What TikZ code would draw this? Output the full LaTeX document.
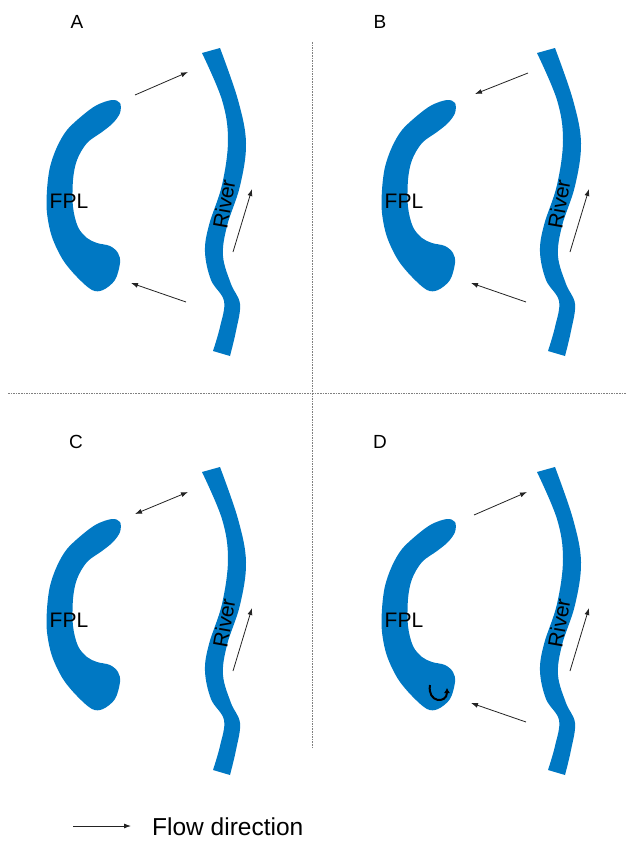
\documentclass[tikz,border=0pt]{standalone}
\usepackage{fontspec}
\setmainfont{Liberation Sans}
\usetikzlibrary{arrows.meta}
\definecolor{riverblue}{RGB}{0,120,195}
\definecolor{arrowgray}{RGB}{35,35,35}
\tikzset{
  flow/.style={draw=arrowgray,line width=0.8pt,-{Latex[length=7pt,width=5pt]}},
  flowboth/.style={draw=arrowgray,line width=0.8pt,{Latex[length=7pt,width=5pt]}-{Latex[length=7pt,width=5pt]}},
  divider/.style={draw=gray,line width=0.9pt,dash pattern=on 1.6pt off 1pt},
  letter/.style={font=\fontsize{19}{19}\selectfont,anchor=base,inner sep=0pt},
  label/.style={font=\fontsize{21}{21}\selectfont,inner sep=0pt},
  panel/.pic={
    \fill[riverblue] plot[smooth cycle,tension=0.55] coordinates {(120,103) (112,100) (97,105) (83,115) (67,130) (57,147) (50,167) (47,190) (47,213) (52,237) (63,260) (77,277) (92,290) (103,290) (115,280) (120,263) (118,253) (110,246) (97,243) (87,238) (78,227) (73,207) (73,180) (77,160) (87,143) (102,132) (113,123) (120,113)};
    \fill[riverblue] plot[smooth,tension=0.6] coordinates {(202,53) (222,100) (228,140) (222,185) (209,225) (205,252) (211,280) (224,301) (220,327) (213,351)}
      -- plot[smooth,tension=0.6] coordinates {(230,356) (236,331) (240,304) (231,284) (223,256) (227,226) (240,186) (246,143) (238,100) (220,48)} -- cycle;
    \node[label] (-fpl) at (69,201) {FPL};
    \node[label,rotate=80] (-river) at (224,204) {River};
  }
}
\begin{document}
\begin{tikzpicture}[x=1pt,y=-1pt]
\useasboundingbox (0,0) rectangle (632,841);
% dividers
\coordinate (vtop) at (312,42);
\coordinate (vbot) at (312,749);
\coordinate (hl) at (8,393);
\coordinate (hr) at (626,393);
\draw[divider] (vtop) -- (vbot);
\draw[divider] (hl) -- (hr);
% panels
\pic (pa) at (0,0) {panel};
\pic (pb) at (335,0) {panel};
\pic (pc) at (0,419) {panel};
\pic (pd) at (335,419) {panel};
% letters
\node[letter] (la) at (77,28) {A};
\node[letter] (lb) at (380,28) {B};
\node[letter] (lc) at (76,448) {C};
\node[letter] (ld) at (380,448) {D};
% panel A arrows
\coordinate (a1) at (135,95);  \coordinate (a2) at (188,72);
\coordinate (a3) at (186,302); \coordinate (a4) at (131,283);
\coordinate (a5) at (233,252); \coordinate (a6) at (252,189);
\draw[flow] (a1) -- (a2);
\draw[flow] (a3) -- (a4);
\draw[flow] (a5) -- (a6);
% panel B arrows
\coordinate (b1) at (528,73);  \coordinate (b2) at (475,94);
\coordinate (b3) at (526,302); \coordinate (b4) at (471,283);
\coordinate (b5) at (570,252); \coordinate (b6) at (589,189);
\draw[flow] (b1) -- (b2);
\draw[flow] (b3) -- (b4);
\draw[flow] (b5) -- (b6);
% panel C arrows
\coordinate (c1) at (135,514); \coordinate (c2) at (188,492);
\coordinate (c5) at (233,671); \coordinate (c6) at (252,608);
\draw[flowboth] (c1) -- (c2);
\draw[flow] (c5) -- (c6);
% panel D arrows
\coordinate (d1) at (474,515); \coordinate (d2) at (527,492);
\coordinate (d3) at (526,722); \coordinate (d4) at (471,703);
\coordinate (d5) at (570,671); \coordinate (d6) at (589,608);
\draw[flow] (d1) -- (d2);
\draw[flow] (d3) -- (d4);
\draw[flow] (d5) -- (d6);
\coordinate (e1) at (430,685); \coordinate (e2) at (447,688);
\draw[line width=2pt,black,-{Latex[length=5pt,width=6pt]}] (e1) .. controls (427,703) and (447,704) .. (e2);
% legend
\coordinate (l1) at (73,826); \coordinate (l2) at (131,826);
\draw[flow] (l1) -- (l2);
\node[anchor=base west,inner sep=0pt,font=\fontsize{24.5}{24.5}\selectfont] (legend) at (152,835) {Flow direction};
\end{tikzpicture}
\end{document}
